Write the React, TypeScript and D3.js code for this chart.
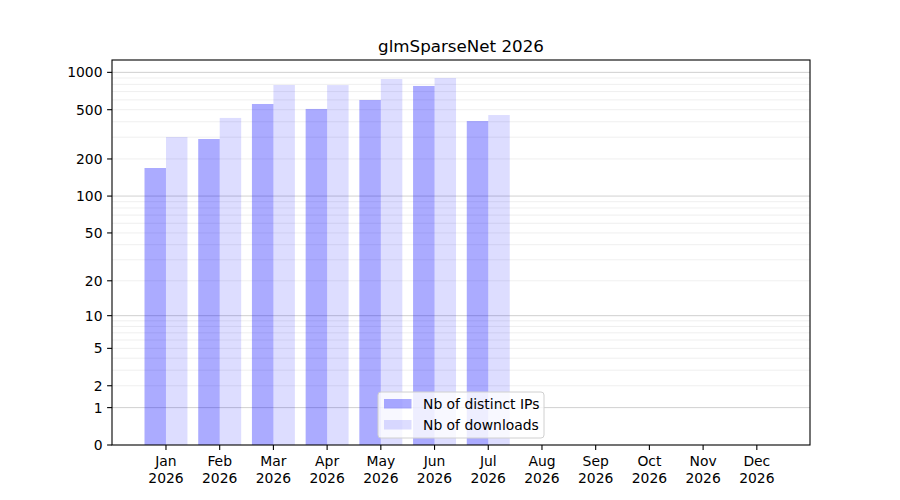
import * as d3 from "d3";

const months = ["Jan", "Feb", "Mar", "Apr", "May", "Jun", "Jul", "Aug", "Sep", "Oct", "Nov", "Dec"];
const year = "2026";
const distinctIPs = [169, 290, 556, 507, 599, 777, 405];
const downloads = [301, 429, 791, 790, 884, 901, 453];
const yTicks = [0, 1, 2, 5, 10, 20, 50, 100, 200, 500, 1000];
const majorGrid = [1, 10, 100, 1000];
const minorGrid = [2, 3, 4, 5, 6, 7, 8, 9, 20, 30, 40, 50, 60, 70, 80, 90, 200, 300, 400, 500, 600, 700, 800, 900];
const title = "glmSparseNet 2026";
const legendLabels = ["Nb of distinct IPs", "Nb of downloads"];

const W = 900, H = 500;
const m = { top: 60, right: 90, bottom: 55, left: 112 };
const FONT = "DejaVu Sans, sans-serif";

export default function App() {
  const x = d3.scaleLinear().domain([-1.005, 11.99]).range([m.left, W - m.right]);
  const y = d3.scaleSymlog().constant(1).domain([0, Math.pow(10, 3.1) - 1]).range([H - m.bottom, m.top]);
  const bw = x(0.4) - x(0);
  const base = y(0);
  const ipColor = "rgba(0,0,255,0.33)";
  const dlColor = "rgba(0,0,255,0.135)";

  const lx = 378, ly = 392;

  return (
    <svg width={W} height={H} style={{ position: "absolute", left: 0, top: 0, background: "#fff" }} fontFamily={FONT}>
      {/* grid */}
      {minorGrid.map(v => (
        <line key={"mi" + v} x1={m.left} x2={W - m.right} y1={y(v)} y2={y(v)} stroke="#ebebeb" strokeWidth={0.8} />
      ))}
      {majorGrid.map(v => (
        <line key={"ma" + v} x1={m.left} x2={W - m.right} y1={y(v)} y2={y(v)} stroke="#c4c4c4" strokeWidth={0.8} />
      ))}

      {/* bars */}
      {distinctIPs.map((v, i) => (
        <rect key={"ip" + i} x={x(i) - bw} y={y(v)} width={bw} height={base - y(v)} fill={ipColor} />
      ))}
      {downloads.map((v, i) => (
        <rect key={"dl" + i} x={x(i)} y={y(v)} width={bw} height={base - y(v)} fill={dlColor} />
      ))}

      {/* spines */}
      <rect x={m.left} y={m.top} width={W - m.right - m.left} height={base - m.top} fill="none" stroke="#000" strokeWidth={1.1} />

      {/* y axis */}
      {yTicks.map(v => (
        <g key={"yt" + v}>
          <line x1={m.left - 4.9} x2={m.left} y1={y(v)} y2={y(v)} stroke="#000" strokeWidth={1.1} />
          <text x={m.left - 9.5} y={y(v)} dy="0.36em" textAnchor="end" fontSize={13.9}>{v}</text>
        </g>
      ))}

      {/* x axis */}
      {months.map((mo, i) => (
        <g key={"xt" + mo}>
          <line x1={x(i)} x2={x(i)} y1={base} y2={base + 4.9} stroke="#000" strokeWidth={1.1} />
          <text x={x(i)} y={base + 21} textAnchor="middle" fontSize={13.9}>{mo}</text>
          <text x={x(i)} y={base + 37.5} textAnchor="middle" fontSize={13.9}>{year}</text>
        </g>
      ))}

      {/* title */}
      <text x={(m.left + W - m.right) / 2} y={52} textAnchor="middle" fontSize={16.7}>{title}</text>

      {/* legend */}
      <rect x={lx} y={ly} width={166} height={46} rx={3} fill="rgba(255,255,255,0.8)" stroke="#d0d0d0" strokeWidth={1} />
      <rect x={lx + 6} y={ly + 7} width={27.5} height={9.5} fill={ipColor} />
      <rect x={lx + 6} y={ly + 28} width={27.5} height={9.5} fill={dlColor} />
      <text x={lx + 45} y={ly + 12} dy="0.36em" fontSize={13.9}>{legendLabels[0]}</text>
      <text x={lx + 45} y={ly + 33} dy="0.36em" fontSize={13.9}>{legendLabels[1]}</text>
    </svg>
  );
}
